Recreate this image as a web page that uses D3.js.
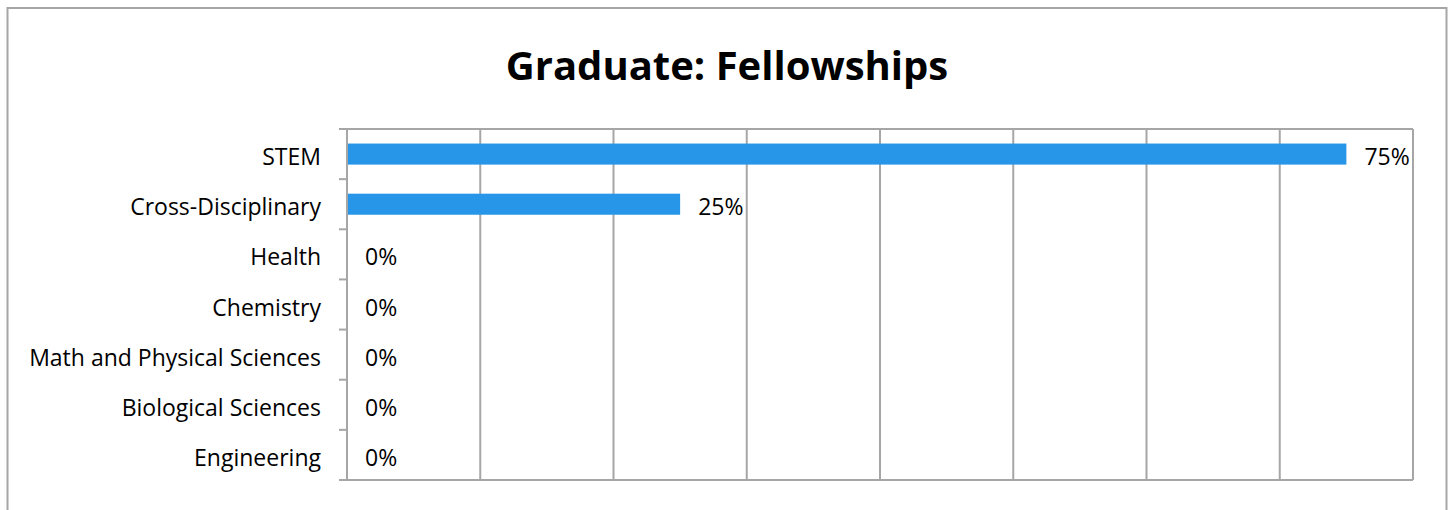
<!DOCTYPE html>
<html>
<head>
<meta charset="utf-8">
<script src="https://cdn.jsdelivr.net/npm/d3@7"></script>
<style>
  html, body { margin: 0; padding: 0; background: #fff; }
  svg { display: block; }
  text { font-family: "Open Sans", "Noto Sans", sans-serif; fill: #000; }
</style>
</head>
<body>
<svg id="chart" width="1453" height="510"></svg>
<script>
// Fellowship shares by field
const categories = ["STEM", "Cross-Disciplinary", "Health", "Chemistry",
  "Math and Physical Sciences", "Biological Sciences", "Engineering"];
const shares = [0.75, 0.25, 0, 0, 0, 0, 0];
const xTicks = [0, 0.1, 0.2, 0.3, 0.4, 0.5, 0.6, 0.7, 0.8];
const title = "Graduate: Fellowships";

const svg = d3.select("#chart");
const plot = { left: 347, right: 1413, top: 129, bottom: 480 };
const gridColor = "#a6a6a6";
const barColor = "#2896e8";

// outer frame
svg.append("rect")
  .attr("x", 7.5).attr("y", 8)
  .attr("width", 1439).attr("height", 520)
  .attr("fill", "#fff")
  .attr("stroke", gridColor).attr("stroke-width", 2);

// title
svg.append("text")
  .attr("x", 727).attr("y", 80)
  .attr("text-anchor", "middle")
  .style("font-size", "40px").style("font-weight", "bold")
  .text(title);

const x = d3.scaleLinear().domain([0, 0.8]).range([plot.left, plot.right]);
const y = d3.scaleBand().domain(categories)
  .range([plot.top, plot.bottom])
  .paddingInner(0.58).paddingOuter(0.29);

// vertical gridlines
svg.append("g").selectAll("line").data(xTicks).join("line")
  .attr("x1", d => x(d)).attr("x2", d => x(d))
  .attr("y1", plot.top).attr("y2", plot.bottom)
  .attr("stroke", gridColor).attr("stroke-width", 2);

// plot frame (top and bottom)
[plot.top, plot.bottom].forEach(yy => {
  svg.append("line")
    .attr("x1", plot.left).attr("x2", plot.right)
    .attr("y1", yy).attr("y2", yy)
    .attr("stroke", gridColor).attr("stroke-width", 2);
});

// category tick marks at band boundaries
const step = y.step();
const bounds = d3.range(categories.length + 1).map(i => plot.top + i * step);
svg.append("g").selectAll("line").data(bounds).join("line")
  .attr("x1", plot.left - 8).attr("x2", plot.left)
  .attr("y1", d => d).attr("y2", d => d)
  .attr("stroke", gridColor).attr("stroke-width", 2);

// bars
svg.append("g").selectAll("rect").data(categories).join("rect")
  .attr("x", x(0) + 1)
  .attr("y", d => y(d))
  .attr("width", (d, i) => Math.max(0, x(shares[i]) - x(0) - 1))
  .attr("height", y.bandwidth())
  .attr("fill", barColor);

// value labels
const fmt = d3.format(".0%");
svg.append("g").selectAll("text").data(categories).join("text")
  .attr("x", (d, i) => x(shares[i]) + 18)
  .attr("y", d => y(d) + y.bandwidth() / 2 + 11)
  .style("font-size", "23px")
  .text((d, i) => fmt(shares[i]));

// category labels
svg.append("g").selectAll("text").data(categories).join("text")
  .attr("x", plot.left - 26)
  .attr("y", d => y(d) + y.bandwidth() / 2 + 11)
  .attr("text-anchor", "end")
  .style("font-size", "23px")
  .text(d => d);
</script>
</body>
</html>
